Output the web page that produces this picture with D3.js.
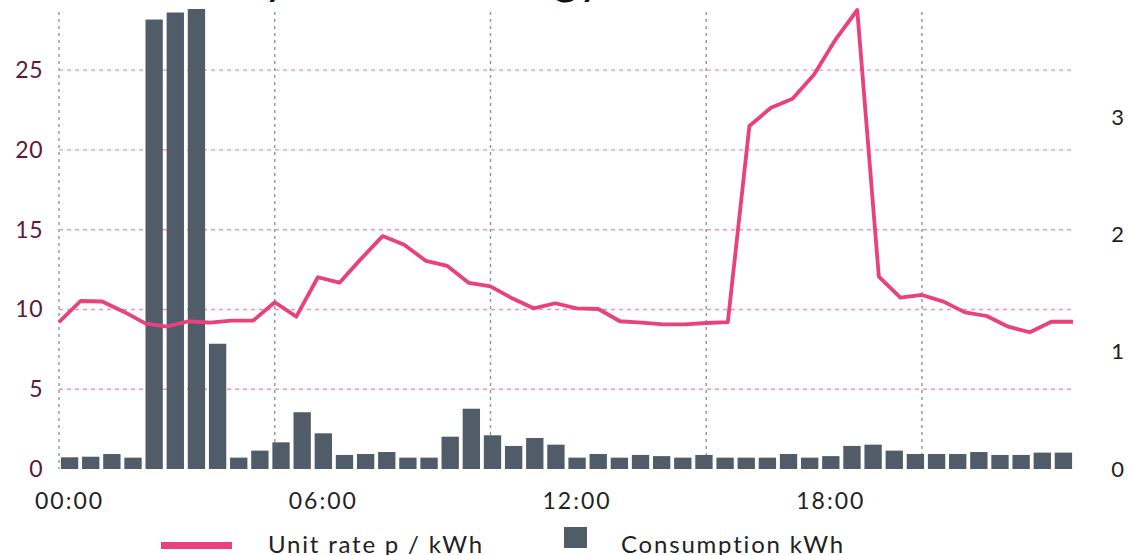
<!DOCTYPE html>
<html>
<head>
<meta charset="utf-8">
<script src="https://cdn.jsdelivr.net/npm/d3@7"></script>
<style>
  body { margin: 0; background: #fff; }
  svg { display: block; font-family: "Lato", sans-serif; }
</style>
</head>
<body>
<div id="chart"></div>
<script>
// half-hour slots for one day
var slots = d3.range(48).map(function(i) {
  return d3.format("02")(Math.floor(i / 2)) + ":" + (i % 2 ? "30" : "00");
});

// unit rate, p / kWh (line, left axis)
var unitRate = [9.2, 10.53, 10.5, 9.86, 9.13, 8.92, 9.26, 9.17, 9.3, 9.3, 10.45, 9.55,
  12.02, 11.68, 13.17, 14.6, 14.05, 13.05, 12.73, 11.66, 11.45, 10.7, 10.07, 10.39,
  10.07, 10.03, 9.26, 9.17, 9.07, 9.07, 9.15, 9.2, 21.5, 22.64, 23.2, 24.73,
  26.93, 28.77, 12.06, 10.74, 10.91, 10.49, 9.82, 9.59, 8.92, 8.57, 9.23, 9.23];

// consumption, kWh (bars, right axis)
var consumption = [0.1, 0.105, 0.128, 0.097, 3.84, 3.9, 3.93, 1.07, 0.097, 0.157, 0.228, 0.485,
  0.305, 0.12, 0.128, 0.145, 0.097, 0.097, 0.276, 0.515, 0.288, 0.197, 0.265, 0.208,
  0.097, 0.128, 0.097, 0.12, 0.11, 0.097, 0.12, 0.097, 0.097, 0.097, 0.128, 0.097,
  0.11, 0.197, 0.208, 0.157, 0.128, 0.128, 0.128, 0.145, 0.12, 0.12, 0.14, 0.14];

var xTickLabels = ["00:00", "06:00", "12:00", "18:00"];
var leftTicks = [0, 5, 10, 15, 20, 25];
var rightTicks = [0, 1, 2, 3];
var hourGrid = [0, 5, 10, 15, 20];

var W = 1129, H = 555;
var plotLeft = 59, plotRight = 1074, plotTop = 10, plotBottom = 469;

var svg = d3.select("#chart").append("svg")
    .attr("width", W)
    .attr("height", H);

// scales
var xBand = d3.scaleBand()
    .domain(slots)
    .range([plotLeft, plotRight])
    .paddingInner(0.18)
    .paddingOuter(0.09);

var xHours = d3.scaleLinear()
    .domain([0, 23.5])
    .range([plotLeft, plotRight - 1]);

var yRate = d3.scaleLinear()
    .domain([0, d3.max(unitRate)])
    .range([plotBottom, plotTop]);

var yKwh = d3.scaleLinear()
    .domain([0, d3.max(consumption)])
    .range([plotBottom, plotTop - 1]);

// title (mostly cut off at the top)
svg.append("text")
    .attr("x", 603)
    .attr("y", -6)
    .attr("text-anchor", "end")
    .attr("font-size", "48px")
    .attr("fill", "#111")
    .text("Electricity: cost & energy");

// vertical grid on the time scale
svg.append("g")
    .selectAll("line")
    .data(hourGrid)
  .enter().append("line")
    .attr("x1", function(d) { return xHours(d); })
    .attr("x2", function(d) { return xHours(d); })
    .attr("y1", 12)
    .attr("y2", plotBottom)
    .attr("stroke", "#8f949a")
    .attr("stroke-width", 1.4)
    .attr("stroke-dasharray", "3,4");

// horizontal grid on the rate scale
svg.append("g")
    .selectAll("line")
    .data(leftTicks.slice(1))
  .enter().append("line")
    .attr("x1", plotLeft)
    .attr("x2", plotRight)
    .attr("y1", function(d) { return yRate(d); })
    .attr("y2", function(d) { return yRate(d); })
    .attr("stroke", "#f293b6")
    .attr("stroke-width", 1.4)
    .attr("stroke-dasharray", "4,4");

// consumption bars
svg.append("g")
    .selectAll("rect")
    .data(consumption)
  .enter().append("rect")
    .attr("x", function(d, i) { return xBand(slots[i]); })
    .attr("width", xBand.bandwidth())
    .attr("y", function(d) { return yKwh(d); })
    .attr("height", function(d) { return plotBottom - yKwh(d); })
    .attr("fill", "#505d69");

// unit rate line
svg.append("path")
    .datum(unitRate)
    .attr("fill", "none")
    .attr("stroke", "#e8417c")
    .attr("stroke-width", 3.8)
    .attr("stroke-linejoin", "round")
    .attr("d", d3.line()
      .x(function(d, i) { return xHours(i / 2); })
      .y(function(d) { return yRate(d); }));

// left axis labels
var leftAxis = svg.append("g")
    .attr("transform", "translate(43,0)")
    .call(d3.axisLeft(yRate).tickValues(leftTicks).tickSize(0).tickPadding(0));
leftAxis.select(".domain").remove();
leftAxis.selectAll("text")
    .attr("font-family", "Lato, sans-serif")
    .attr("font-size", "23px")
    .attr("fill", "#5e1838")
    .attr("letter-spacing", "0.5px");

// right axis labels
var rightAxis = svg.append("g")
    .attr("transform", "translate(1124,0)")
    .call(d3.axisLeft(yKwh).tickValues(rightTicks).tickSize(0).tickPadding(0)
      .tickFormat(d3.format("d")));
rightAxis.select(".domain").remove();
rightAxis.selectAll("text")
    .attr("font-family", "Lato, sans-serif")
    .attr("font-size", "22px")
    .attr("fill", "#1e1e1e");

// bottom axis labels every six hours
var bottomAxis = svg.append("g")
    .attr("transform", "translate(0," + plotBottom + ")")
    .call(d3.axisBottom(xBand)
      .tickValues(xTickLabels)
      .tickSize(0)
      .tickPadding(24));
bottomAxis.select(".domain").remove();
bottomAxis.selectAll("text")
    .attr("font-family", "Lato, sans-serif")
    .attr("font-size", "23px")
    .attr("fill", "#222")
    .attr("letter-spacing", "2px");

// legend
var legend = svg.append("g");
legend.append("rect")
    .attr("x", 161).attr("y", 542)
    .attr("width", 71).attr("height", 7)
    .attr("fill", "#e8417c");
legend.append("text")
    .attr("x", 268).attr("y", 553)
    .attr("font-size", "24px")
    .attr("fill", "#222")
    .attr("letter-spacing", "1.8px")
    .text("Unit rate p / kWh");
legend.append("rect")
    .attr("x", 564).attr("y", 527)
    .attr("width", 23).attr("height", 21)
    .attr("fill", "#505d69");
legend.append("text")
    .attr("x", 621).attr("y", 553)
    .attr("font-size", "24px")
    .attr("fill", "#222")
    .attr("letter-spacing", "1.8px")
    .text("Consumption kWh");
</script>
</body>
</html>
